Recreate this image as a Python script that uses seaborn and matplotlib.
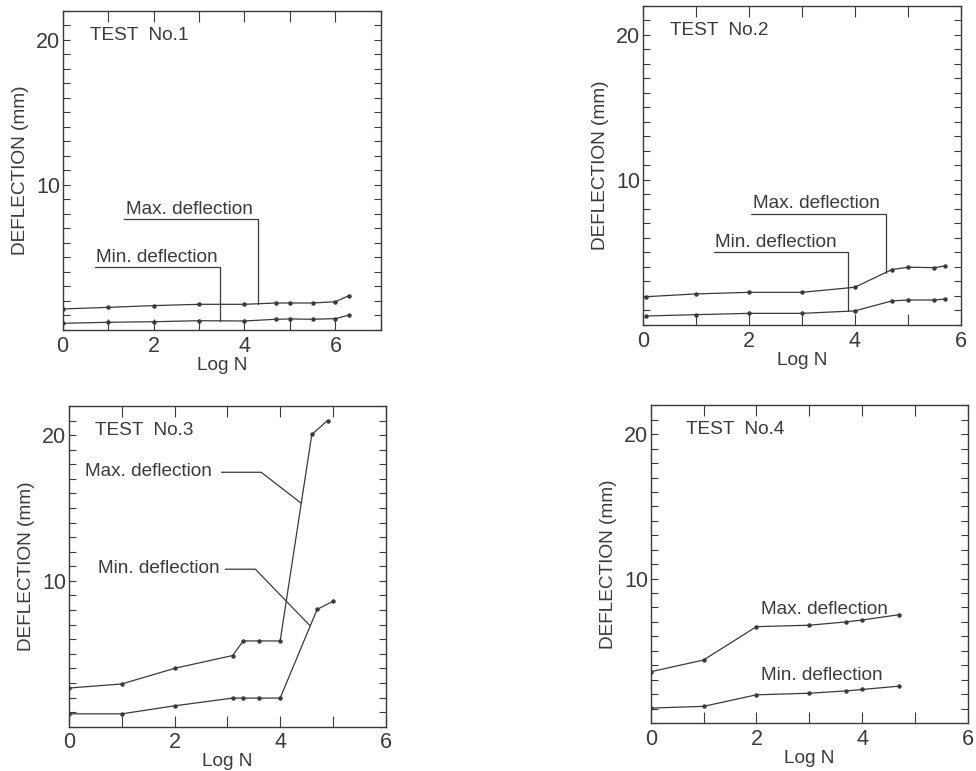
import numpy as np
import pandas as pd
import matplotlib
matplotlib.use("Agg")
import matplotlib.pyplot as plt
import seaborn as sns
from matplotlib.ticker import MultipleLocator, FixedLocator

sns.set_style("white")
plt.rcParams['font.family'] = ['Liberation Sans', 'DejaVu Sans']

# ---- data ----
t1_logn     = [0.0, 1.0, 2.0, 3.0, 4.0, 4.7, 5.0, 5.5, 6.0, 6.3]
t1_max      = [1.45, 1.56, 1.68, 1.77, 1.77, 1.86, 1.86, 1.86, 1.95, 2.37]
t1_min      = [0.46, 0.53, 0.57, 0.64, 0.62, 0.74, 0.76, 0.74, 0.78, 1.03]

t2_logn     = [0.07, 1.0, 2.0, 3.0, 4.0, 4.7, 5.0, 5.5, 5.7]
t2_max      = [1.95, 2.14, 2.25, 2.25, 2.60, 3.82, 3.98, 3.95, 4.07]
t2_min      = [0.62, 0.71, 0.80, 0.80, 0.97, 1.66, 1.72, 1.72, 1.79]

t3_logn_max = [0.0, 1.0, 2.0, 3.1, 3.3, 3.6, 4.0, 4.6, 4.9]
t3_max      = [2.65, 2.93, 4.00, 4.88, 5.88, 5.88, 5.88, 20.05, 21.0]
t3_logn_min = [0.0, 1.0, 2.0, 3.1, 3.3, 3.6, 4.0, 4.7, 5.0]
t3_min      = [0.88, 0.88, 1.43, 1.96, 1.96, 1.96, 1.96, 8.04, 8.60]

t4_logn     = [0.0, 1.0, 2.0, 3.0, 3.7, 4.0, 4.7]
t4_max      = [3.55, 4.36, 6.67, 6.77, 7.00, 7.13, 7.50]
t4_min      = [1.03, 1.15, 1.95, 2.06, 2.22, 2.32, 2.55]

titles = ["TEST  No.1", "TEST  No.2", "TEST  No.3", "TEST  No.4"]
x_ticks = [0, 2, 4, 6]
y_ticks = [10, 20]

INK = "#3a3a3a"
FS = 13.7
TFS = 15.5

fig = plt.figure(figsize=(9.76, 7.71), dpi=100)
rects = [
    [0.0642, 0.572, 0.326, 0.414],
    [0.6585, 0.5785, 0.326, 0.414],
    [0.0707, 0.0575, 0.3245, 0.416],
    [0.6667, 0.0623, 0.325, 0.412],
]
xlims = [7, 6, 6, 6]
title_x = [0.6, 0.52, 0.5, 0.67]

series = [
    ((t1_logn, t1_max), (t1_logn, t1_min)),
    ((t2_logn, t2_max), (t2_logn, t2_min)),
    ((t3_logn_max, t3_max), (t3_logn_min, t3_min)),
    ((t4_logn, t4_max), (t4_logn, t4_min)),
]

axes = []
for i, r in enumerate(rects):
    ax = fig.add_axes(r)
    axes.append(ax)
    for (xs, ys) in series[i]:
        df = pd.DataFrame({"logN": xs, "defl": ys})
        sns.lineplot(data=df, x="logN", y="defl", ax=ax, color=INK, lw=0.9,
                     marker="o", markersize=3.2, markeredgewidth=0,
                     markerfacecolor=INK, sort=False, legend=False)
    ax.set_xlim(0, xlims[i])
    ax.set_ylim(0, 22)
    ax.xaxis.set_major_locator(FixedLocator(x_ticks))
    ax.xaxis.set_minor_locator(MultipleLocator(1))
    ax.yaxis.set_major_locator(FixedLocator(y_ticks))
    ax.yaxis.set_minor_locator(MultipleLocator(1))
    ax.tick_params(which="both", direction="in", top=True, right=True,
                   bottom=True, left=True, colors=INK, width=0.8)
    ax.tick_params(axis="x", which="both", length=8, pad=4,
                   labelsize=TFS, labelcolor=INK)
    ax.tick_params(axis="y", which="both", length=5, pad=2,
                   labelsize=TFS, labelcolor=INK)
    for s in ax.spines.values():
        s.set_color(INK)
        s.set_linewidth(1.0)
    ax.set_xlabel("Log N", fontsize=FS, color=INK, labelpad=0)
    ax.set_ylabel("DEFLECTION (mm)", fontsize=FS, color=INK, labelpad=5)
    ax.text(title_x[i], 20.3, titles[i], fontsize=FS, color=INK,
            va="center", ha="left")
    ax.set_facecolor("white")

# ---- annotations ----
def underlined(ax, text, x0, x1, y, xs, ys):
    ax.text(x0 + 0.03, y + 0.12, text, fontsize=FS, color=INK, ha="left", va="bottom")
    ycurve = float(np.interp(x1, xs, ys))
    ax.plot([x0, x1, x1], [y, y, ycurve], color=INK, lw=0.9)

underlined(axes[0], "Max. deflection", 1.36, 4.29, 7.63, t1_logn, t1_max)
underlined(axes[0], "Min. deflection", 0.71, 3.46, 4.32, t1_logn, t1_min)
underlined(axes[1], "Max. deflection", 2.05, 4.58, 7.66, t2_logn, t2_max)
underlined(axes[1], "Min. deflection", 1.34, 3.87, 5.01, t2_logn, t2_min)

def leader(ax, text, xt, yt, xa, xb, xtarget, xs, ys):
    ax.text(xt, yt, text, fontsize=FS, color=INK, ha="left", va="center")
    ycurve = float(np.interp(xtarget, xs, ys))
    ax.plot([xa, xb, xtarget], [yt - 0.05, yt - 0.05, ycurve], color=INK, lw=0.9)

leader(axes[2], "Max. deflection", 0.31, 17.5, 2.89, 3.64, 4.40, t3_logn_max, t3_max)
leader(axes[2], "Min. deflection", 0.54, 10.85, 2.96, 3.53, 4.57, t3_logn_min, t3_min)

axes[3].text(2.09, 7.85, "Max. deflection", fontsize=FS, color=INK, ha="left", va="center")
axes[3].text(2.09, 3.3, "Min. deflection", fontsize=FS, color=INK, ha="left", va="center")

fig.savefig("out.png", dpi=100, facecolor="white")
